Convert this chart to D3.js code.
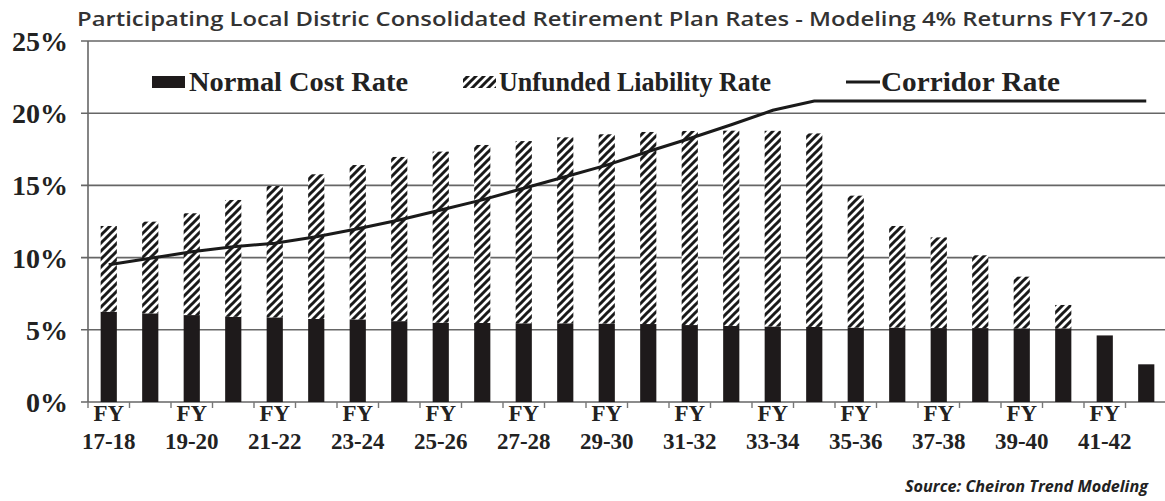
<!DOCTYPE html>
<html>
<head>
<meta charset="utf-8">
<script src="https://cdn.jsdelivr.net/npm/d3@7"></script>
<style>
  body { margin: 0; background: #fff; }
  #chart svg { display: block; }
</style>
</head>
<body>
<div id="chart"></div>
<script>
const years = ["17-18", "18-19", "19-20", "20-21", "21-22", "22-23", "23-24", "24-25", "25-26",
    "26-27", "27-28", "28-29", "29-30", "30-31", "31-32", "32-33", "33-34", "34-35", "35-36",
    "36-37", "37-38", "38-39", "39-40", "40-41", "41-42", "42-43"];
const normalCost = [6.25, 6.14, 6.02, 5.9, 5.86, 5.75, 5.72, 5.6, 5.49, 5.47, 5.45, 5.45, 5.43,
    5.4, 5.33, 5.27, 5.23, 5.2, 5.15, 5.15, 5.12, 5.12, 5.1, 5.1, 4.61, 2.61];
const unfundedLiability = [5.94, 6.35, 7.05, 8.09, 9.1, 10.02, 10.69, 11.37, 11.85, 12.33, 12.62,
    12.88, 13.11, 13.3, 13.44, 13.52, 13.55, 13.4, 9.14, 7.04, 6.28, 5.04, 3.58, 1.62, 0, 0];
const corridorRate = [9.5, 9.95, 10.4, 10.75, 11.0, 11.45, 12.0, 12.6, 13.3, 14.0, 14.8, 15.6,
    16.4, 17.35, 18.25, 19.2, 20.2, 20.85, 20.85, 20.85, 20.85, 20.85, 20.85, 20.85, 20.85, 20.85];
const yTicks = [0, 5, 10, 15, 20, 25];

const drawChart = () => {
    const width = 1165, height = 501;
    const left = 88, right = 1167, top = 41, bottom = 402;
    const serif = "'Liberation Serif', 'Times New Roman', serif";

    const svg = d3.select("#chart").append("svg")
        .attr("width", width)
        .attr("height", height);

    // hatch for unfunded liability
    svg.append("defs").append("pattern")
        .attr("id", "hatch")
        .attr("patternUnits", "userSpaceOnUse")
        .attr("width", 8).attr("height", 8)
        .call(p => p.append("rect").attr("width", 8).attr("height", 8).attr("fill", "#fff"))
        .append("path")
        .attr("d", "M-2,2 l4,-4 M0,8 l8,-8 M6,10 l4,-4")
        .attr("stroke", "#1a1a1a")
        .attr("stroke-width", 3);

    const x = d3.scaleBand().domain(years).range([left, right]).paddingInner(0.61).paddingOuter(0.305);
    const y = d3.scaleLinear().domain([0, 25]).range([bottom, top]);

    // title
    svg.append("text")
        .attr("x", 77).attr("y", 26)
        .attr("textLength", 1071).attr("lengthAdjust", "spacingAndGlyphs")
        .style("font-family", "'Open Sans', sans-serif")
        .style("font-weight", 600)
        .style("font-size", "20px")
        .style("fill", "#333")
        .text("Participating Local Distric Consolidated Retirement Plan Rates - Modeling 4% Returns FY17-20");

    // gridlines + y labels
    const grid = svg.append("g");
    grid.selectAll("line")
        .data(yTicks)
        .enter().append("line")
        .attr("x1", left - 7).attr("x2", width)
        .attr("y1", d => y(d)).attr("y2", d => y(d))
        .attr("stroke", "#666")
        .attr("stroke-width", 1.6);
    grid.selectAll("text")
        .data(yTicks)
        .enter().append("text")
        .attr("x", 68).attr("y", d => y(d) + 10)
        .attr("text-anchor", "end")
        .style("font-family", serif)
        .style("font-weight", "bold")
        .style("font-size", "28px")
        .style("fill", "#222")
        .text(d => d + "%");

    // y axis line
    svg.append("line")
        .attr("x1", left).attr("x2", left)
        .attr("y1", top).attr("y2", bottom)
        .attr("stroke", "#666").attr("stroke-width", 1.6);

    // bottom ticks at band edges
    svg.append("g").selectAll("line")
        .data(years)
        .enter().append("line")
        .attr("x1", d => x(d) - x.step() * x.paddingOuter())
        .attr("x2", d => x(d) - x.step() * x.paddingOuter())
        .attr("y1", bottom).attr("y2", bottom + 6)
        .attr("stroke", "#777").attr("stroke-width", 1.4);

    // stacked bars
    const rows = years.map((yr, i) => ({ yr, normal: normalCost[i], unfunded: unfundedLiability[i] }));
    const stack = d3.stack().keys(["normal", "unfunded"])(rows);
    const fills = { normal: "#1e1a1b", unfunded: "url(#hatch)" };
    svg.append("g").selectAll("g")
        .data(stack)
        .enter().append("g")
        .attr("fill", d => fills[d.key])
        .selectAll("rect")
        .data(d => d)
        .enter().append("rect")
        .attr("x", d => x(d.data.yr))
        .attr("width", x.bandwidth())
        .attr("y", d => y(d[1]))
        .attr("height", d => y(d[0]) - y(d[1]));

    // corridor line
    const line = d3.line()
        .x((d, i) => x(years[i]) + x.bandwidth() / 2)
        .y(d => y(d));
    svg.append("path")
        .datum(corridorRate)
        .attr("d", line)
        .attr("fill", "none")
        .attr("stroke", "#1a1a1a")
        .attr("stroke-width", 3);

    // x labels
    const xl = svg.append("g").selectAll("text")
        .data(years.filter((d, i) => i % 2 === 0))
        .enter().append("text")
        .attr("text-anchor", "middle")
        .style("font-family", serif)
        .style("font-weight", "bold")
        .style("font-size", "23px")
        .style("fill", "#222");
    xl.append("tspan").attr("x", d => x(d) + x.bandwidth() / 2).attr("y", 421).text("FY");
    xl.append("tspan").attr("x", d => x(d) + x.bandwidth() / 2).attr("y", 449).text(d => d);

    // legend
    const lg = svg.append("g")
        .style("font-family", serif)
        .style("font-weight", "bold")
        .style("font-size", "27px")
        .style("fill", "#222");
    lg.append("rect").attr("x", 152).attr("y", 76).attr("width", 33).attr("height", 12).attr("fill", "#1e1a1b");
    lg.append("text").attr("x", 189).attr("y", 91).attr("textLength", 219).attr("lengthAdjust", "spacingAndGlyphs").text("Normal Cost Rate");
    lg.append("rect").attr("x", 463).attr("y", 76).attr("width", 33).attr("height", 12).attr("fill", "url(#hatch)");
    lg.append("text").attr("x", 499).attr("y", 91).attr("textLength", 272).attr("lengthAdjust", "spacingAndGlyphs").text("Unfunded Liability Rate");
    lg.append("line").attr("x1", 846).attr("x2", 880).attr("y1", 82).attr("y2", 82).attr("stroke", "#1a1a1a").attr("stroke-width", 3);
    lg.append("text").attr("x", 881).attr("y", 91).attr("textLength", 179).attr("lengthAdjust", "spacingAndGlyphs").text("Corridor Rate");

    // source
    svg.append("text")
        .attr("x", 1148).attr("y", 492)
        .attr("text-anchor", "end")
        .attr("textLength", 243).attr("lengthAdjust", "spacingAndGlyphs")
        .style("font-family", "'Open Sans', sans-serif")
        .style("font-weight", "bold")
        .style("font-style", "italic")
        .style("font-size", "16px")
        .style("fill", "#222")
        .text("Source: Cheiron Trend Modeling");
};

document.addEventListener("DOMContentLoaded", drawChart);
</script>
</body>
</html>
